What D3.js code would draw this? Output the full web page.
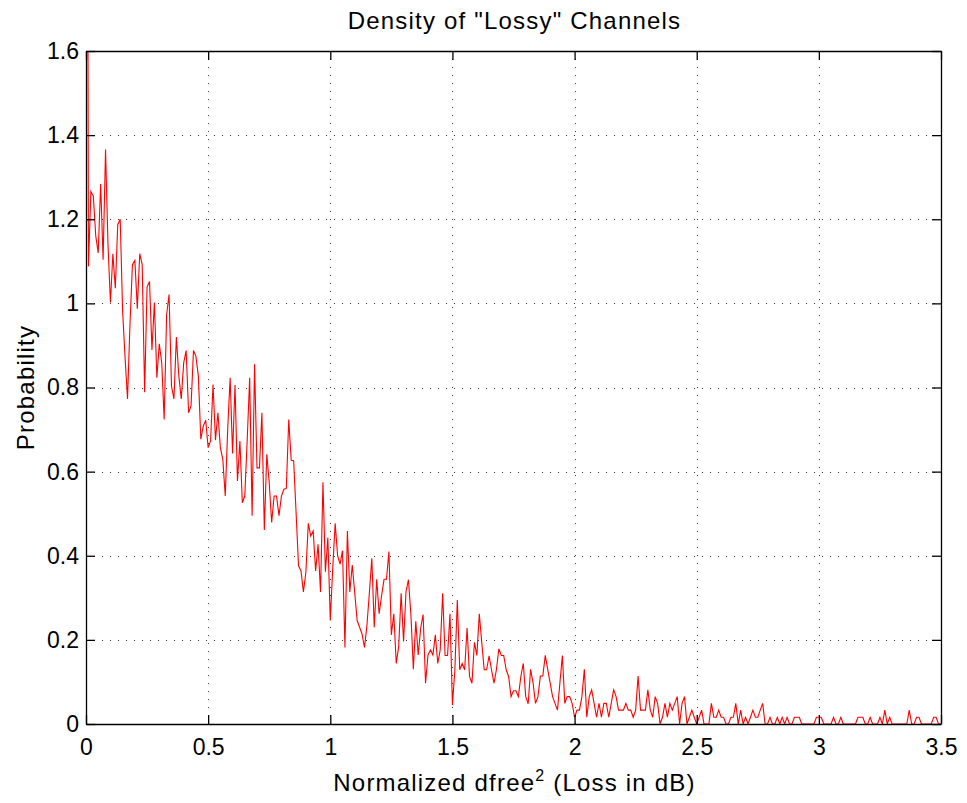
<!DOCTYPE html>
<html>
<head>
<meta charset="utf-8">
<script src="https://cdn.jsdelivr.net/npm/d3@7/dist/d3.min.js"></script>
<style>
  html, body { margin: 0; padding: 0; background: #fff; }
  svg { display: block; }
  text { font-family: "Liberation Sans", Arial, Helvetica, sans-serif; fill: #000; }
</style>
</head>
<body>
<svg id="chart" width="967" height="803"></svg>
<script>
// ---- data ----
const titleText = 'Density of "Lossy" Channels';
const xLabelMain = "Normalized dfree";
const xLabelSup = "2";
const xLabelTail = " (Loss in dB)";
const yLabelText = "Probability";
const xTicks = [0, 0.5, 1, 1.5, 2, 2.5, 3, 3.5];
const xTickLabels = ["0", "0.5", "1", "1.5", "2", "2.5", "3", "3.5"];
const yTicks = [0, 0.2, 0.4, 0.6, 0.8, 1, 1.2, 1.4, 1.6];
const yTickLabels = ["0", "0.2", "0.4", "0.6", "0.8", "1", "1.2", "1.4", "1.6"];
const xDomain = [0, 3.5];
const yDomain = [0, 1.6];
const binStart = 0;      // first bin position
const binWidth = 0.01;   // bin spacing
// probability per bin
const probability = [
  4.000, 1.088, 1.266, 1.255, 1.160, 1.120, 1.284, 1.104, 1.366, 1.140,
  1.002, 1.118, 1.036, 1.187, 1.200, 0.980, 0.870, 0.773, 0.950, 1.092,
  1.102, 0.987, 1.118, 1.092, 0.789, 1.039, 1.052, 0.889, 1.002, 0.823,
  0.904, 0.859, 0.724, 0.973, 1.021, 0.803, 0.773, 0.920, 0.827, 0.773,
  0.859, 0.888, 0.740, 0.756, 0.888, 0.874, 0.827, 0.677, 0.708, 0.722,
  0.657, 0.673, 0.807, 0.675, 0.740, 0.657, 0.629, 0.542, 0.700, 0.823,
  0.643, 0.806, 0.578, 0.673, 0.526, 0.542, 0.677, 0.823, 0.495, 0.855,
  0.609, 0.609, 0.740, 0.461, 0.641, 0.574, 0.479, 0.542, 0.542, 0.495,
  0.542, 0.558, 0.560, 0.724, 0.627, 0.626, 0.503, 0.376, 0.364, 0.314,
  0.360, 0.477, 0.447, 0.459, 0.364, 0.427, 0.314, 0.575, 0.362, 0.443,
  0.246, 0.370, 0.477, 0.400, 0.380, 0.412, 0.182, 0.459, 0.314, 0.378,
  0.312, 0.246, 0.230, 0.214, 0.182, 0.234, 0.312, 0.394, 0.230, 0.344,
  0.262, 0.305, 0.344, 0.344, 0.410, 0.212, 0.262, 0.144, 0.184, 0.311,
  0.196, 0.315, 0.343, 0.260, 0.130, 0.244, 0.164, 0.228, 0.260, 0.097,
  0.164, 0.176, 0.164, 0.212, 0.144, 0.176, 0.311, 0.163, 0.163, 0.262,
  0.045, 0.129, 0.295, 0.129, 0.144, 0.129, 0.228, 0.113, 0.097, 0.194,
  0.163, 0.262, 0.194, 0.129, 0.129, 0.162, 0.129, 0.097, 0.129, 0.179,
  0.163, 0.163, 0.129, 0.113, 0.065, 0.079, 0.079, 0.065, 0.113, 0.144,
  0.065, 0.048, 0.130, 0.098, 0.049, 0.065, 0.114, 0.114, 0.163, 0.130,
  0.098, 0.065, 0.049, 0.033, 0.098, 0.163, 0.049, 0.065, 0.065, 0.049,
  0.016, 0.033, 0.033, 0.065, 0.130, 0.016, 0.065, 0.081, 0.049, 0.016,
  0.049, 0.016, 0.049, 0.049, 0.016, 0.049, 0.081, 0.065, 0.033, 0.033,
  0.033, 0.049, 0.033, 0.033, 0.016, 0.033, 0.114, 0.033, 0.033, 0.033,
  0.081, 0.033, 0.016, 0.065, 0.049, 0.000, 0.016, 0.049, 0.016, 0.049,
  0.033, 0.049, 0.065, 0.000, 0.049, 0.065, 0.000, 0.016, 0.033, 0.016,
  0.000, 0.016, 0.033, 0.000, 0.000, 0.000, 0.049, 0.016, 0.016, 0.033,
  0.016, 0.016, 0.000, 0.000, 0.016, 0.016, 0.049, 0.000, 0.033, 0.000,
  0.016, 0.000, 0.016, 0.033, 0.016, 0.016, 0.033, 0.049, 0.000, 0.000,
  0.016, 0.000, 0.000, 0.016, 0.000, 0.016, 0.000, 0.016, 0.000, 0.000,
  0.016, 0.016, 0.016, 0.000, 0.000, 0.000, 0.000, 0.000, 0.000, 0.016,
  0.016, 0.016, 0.000, 0.000, 0.000, 0.000, 0.016, 0.000, 0.000, 0.016,
  0.000, 0.000, 0.000, 0.000, 0.000, 0.000, 0.016, 0.016, 0.016, 0.000,
  0.000, 0.016, 0.000, 0.000, 0.000, 0.016, 0.000, 0.033, 0.000, 0.016,
  0.000, 0.000, 0.000, 0.000, 0.000, 0.000, 0.000, 0.033, 0.000, 0.000,
  0.016, 0.016, 0.000, 0.000, 0.000, 0.000, 0.000, 0.016, 0.016, 0.000,
  0.000
];

// ---- layout ----
const W = 967, H = 803;
const margin = { left: 86, right: 26, top: 51, bottom: 79 };
const svg = d3.select("#chart");
svg.append("rect").attr("width", W).attr("height", H).attr("fill", "#fff");

const x = d3.scaleLinear().domain(xDomain).range([margin.left, W - margin.right]);
const y = d3.scaleLinear().domain(yDomain).range([H - margin.bottom, margin.top]);
const [x0, x1] = x.range();
const [y0, y1] = y.range();

// grid
const grid = svg.append("g").attr("stroke", "#333").attr("stroke-width", 1)
  .attr("stroke-dasharray", "1,7").attr("shape-rendering", "crispEdges");
grid.selectAll("line.gx").data(xTicks.slice(1, -1)).join("line")
  .attr("class", "gx")
  .attr("x1", d => Math.round(x(d)) + 0.5).attr("x2", d => Math.round(x(d)) + 0.5)
  .attr("y1", y1).attr("y2", y0);
grid.selectAll("line.gy").data(yTicks.slice(1, -1)).join("line")
  .attr("class", "gy")
  .attr("y1", d => Math.round(y(d)) + 0.5).attr("y2", d => Math.round(y(d)) + 0.5)
  .attr("x1", x0).attr("x2", x1);

// data line
svg.append("clipPath").attr("id", "clip").append("rect")
  .attr("x", x0).attr("y", y1).attr("width", x1 - x0).attr("height", y0 - y1);
const line = d3.line()
  .x((d, i) => x(binStart + i * binWidth))
  .y(d => y(d));
svg.append("path").datum(probability)
  .attr("clip-path", "url(#clip)")
  .attr("fill", "none").attr("stroke", "#ff0000").attr("stroke-width", 1.1)
  .attr("stroke-linejoin", "miter")
  .attr("d", line);

// axes (MATLAB style: ticks inward on all four sides)
const tickLen = 9;
const axBottom = d3.axisBottom(x).tickValues(xTicks).tickFormat((d, i) => xTickLabels[i]).tickSizeInner(-tickLen).tickSizeOuter(0).tickPadding(15);
const axTop = d3.axisTop(x).tickValues(xTicks).tickFormat("").tickSizeInner(-tickLen).tickSizeOuter(0);
const axLeft = d3.axisLeft(y).tickValues(yTicks).tickFormat((d, i) => yTickLabels[i]).tickSizeInner(-tickLen).tickSizeOuter(0).tickPadding(7);
const axRight = d3.axisRight(y).tickValues(yTicks).tickFormat("").tickSizeInner(-tickLen).tickSizeOuter(0);

function styleAxis(g) {
  g.select(".domain").attr("stroke", "#000").attr("stroke-width", 1.3);
  g.selectAll(".tick line").attr("stroke", "#000").attr("stroke-width", 1.3);
  g.selectAll(".tick text").attr("font-size", 23).attr("font-family", '"Liberation Sans", Arial, sans-serif').attr("fill", "#000");
}
svg.append("g").attr("transform", `translate(0,${y0})`).call(axBottom).call(styleAxis)
  .selectAll(".tick text").attr("dy", "0.71em");
svg.append("g").attr("transform", `translate(0,${y1})`).call(axTop).call(styleAxis);
svg.append("g").attr("transform", `translate(${x0},0)`).call(axLeft).call(styleAxis);
svg.append("g").attr("transform", `translate(${x1},0)`).call(axRight).call(styleAxis);

// title
svg.append("text").attr("x", (x0 + x1) / 2 + 1).attr("y", 29)
  .attr("text-anchor", "middle").attr("font-size", 24).attr("letter-spacing", 1.2)
  .text(titleText);

// x label with superscript
const xl = svg.append("text").attr("x", (x0 + x1) / 2 + 1).attr("y", 791)
  .attr("text-anchor", "middle").attr("font-size", 24).attr("letter-spacing", 1.2);
xl.append("tspan").text(xLabelMain);
xl.append("tspan").attr("font-size", 16).attr("dy", -10).text(xLabelSup);
xl.append("tspan").attr("dy", 10).text(xLabelTail);

// y label
svg.append("text")
  .attr("transform", `translate(34,${(y0 + y1) / 2}) rotate(-90)`)
  .attr("text-anchor", "middle").attr("font-size", 24).attr("letter-spacing", 1.2)
  .text(yLabelText);
</script>
</body>
</html>
